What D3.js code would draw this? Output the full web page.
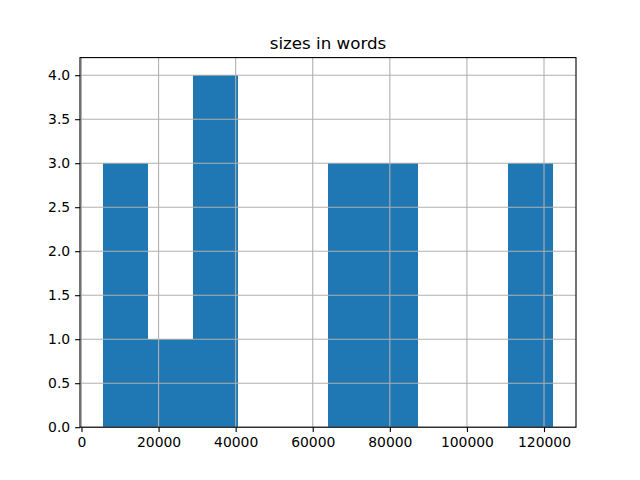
<!DOCTYPE html>
<html><head><meta charset="utf-8">
<script src="https://cdn.jsdelivr.net/npm/d3@7"></script>
<style>body{margin:0;background:#fff}svg{display:block}text{font-family:"DejaVu Sans",sans-serif}</style>
</head><body><svg id="c" width="640" height="480"></svg>
<script>
const title = "sizes in words";
const dataMin = 5466;
const dataMax = 122450;
const counts = [3, 1, 4, 0, 0, 3, 3, 0, 0, 3];
const xTicks = [0, 20000, 40000, 60000, 80000, 100000, 120000];
const yTicks = [0.0, 0.5, 1.0, 1.5, 2.0, 2.5, 3.0, 3.5, 4.0];

const svg = d3.select("#c");
const L = 80, R = 576, T = 57.6, B = 427.2;
const nb = counts.length;
const bw = (dataMax - dataMin) / nb;
const bins = counts.map((c, i) => ({x0: dataMin + i * bw, x1: dataMin + (i + 1) * bw, c}));
const pad = 0.05 * (dataMax - dataMin);
const x = d3.scaleLinear().domain([dataMin - pad, dataMax + pad]).range([L, R]);
const ymax = d3.max(counts) * 1.05;
const y = d3.scaleLinear().domain([0, ymax]).range([B, T]);

svg.append("g").attr("shape-rendering", "crispEdges").selectAll("rect").data(bins.filter(d => d.c > 0)).join("rect")
  .attr("x", d => x(d.x0)).attr("width", d => x(d.x1) - x(d.x0))
  .attr("y", d => y(d.c)).attr("height", d => B - y(d.c))
  .attr("fill", "#1f77b4");

const grid = svg.append("g").attr("stroke", "#b0b0b0").attr("stroke-width", 1.1);
xTicks.forEach(t => grid.append("line").attr("x1", x(t)).attr("x2", x(t)).attr("y1", T).attr("y2", B));
yTicks.forEach(t => grid.append("line").attr("x1", L).attr("x2", R).attr("y1", y(t)).attr("y2", y(t)));

const xa = svg.append("g").attr("transform", `translate(0,${B})`)
  .call(d3.axisBottom(x).tickValues(xTicks).tickFormat(d3.format("d")).tickSize(4.9).tickPadding(4.9));
const ya = svg.append("g").attr("transform", `translate(${L},0)`)
  .call(d3.axisLeft(y).tickValues(yTicks).tickFormat(d3.format(".1f")).tickSize(4.9).tickPadding(4.9));
[xa, ya].forEach(a => {
  a.select(".domain").remove();
  a.selectAll("line").attr("stroke", "#000").attr("stroke-width", 1.1);
  a.selectAll("text").attr("font-size", "13.9px").attr("fill", "#000").attr("font-family", "DejaVu Sans");
});

svg.append("rect").attr("x", L).attr("y", T).attr("width", R - L).attr("height", B - T)
  .attr("fill", "none").attr("stroke", "#000").attr("stroke-width", 1.1);

svg.append("text").attr("x", (L + R) / 2).attr("y", T - 8.3).attr("text-anchor", "middle")
  .attr("font-size", "16.7px").attr("fill", "#000").text(title);
</script></body></html>
